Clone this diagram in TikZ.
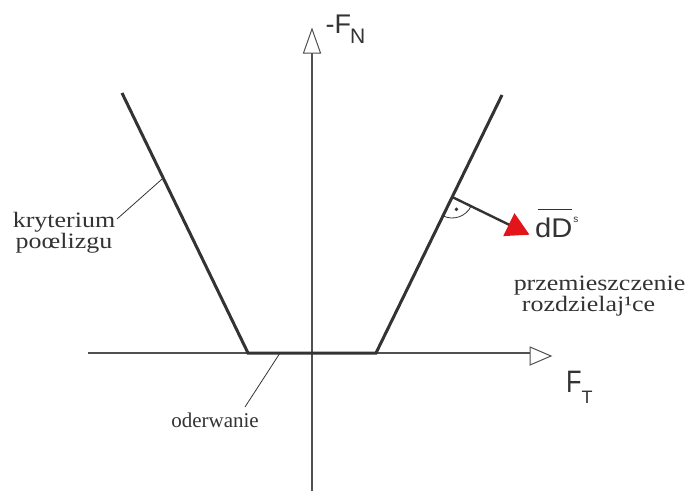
\documentclass[tikz,border=0pt]{standalone}
\usepackage{fontspec}
\setmainfont{Liberation Serif}
\newfontfamily\lsans{Liberation Sans}
\usetikzlibrary{arrows.meta,calc}
\definecolor{ink}{HTML}{333333}
\definecolor{axisgray}{HTML}{505050}
\definecolor{dred}{HTML}{E4141B}
\newcommand{\wide}[1]{\scalebox{1.18}[1]{#1}}
\begin{document}
\begin{tikzpicture}[x=1pt,y=-1pt,
  axis/.style={draw=axisgray, line width=1.1pt},
  opentip/.style={draw=axisgray, line width=1pt, fill=white, line join=miter},
  crit/.style={draw=ink, line width=3pt, line join=miter},
  leader/.style={draw=ink, line width=0.8pt},
  serif/.style={font={\fontsize{22}{21}\selectfont\lineskiplimit=-60pt\lineskip=0pt}, text=ink, inner sep=0pt, align=center},
  sanslab/.style={text=ink, inner sep=0pt, anchor=base west}]
\useasboundingbox (0,0) rectangle (688,491);
% axes
\coordinate (vb) at (312,491);
\coordinate (vt) at (312,53);
\coordinate (hl) at (88,353);
\coordinate (hr) at (530,353);
\draw[axis] (vb) -- (vt);
\draw[axis] (hl) -- (hr);
\draw[opentip] (312,29) coordinate (vtip) -- (320.5,53) -- (303.5,53) -- cycle;
\draw[opentip] (551,356) coordinate (htip) -- (530,365) -- (530,347) -- cycle;
% criterion
\draw[crit] (122,93) coordinate (lt) -- (248,353) coordinate (lb) -- (376,353) coordinate (rb) -- (502,95) coordinate (rt);
% normal direction
\coordinate (foot) at ($(rb)!0.6047!(rt)$);
\draw[draw=ink, line width=2.4pt, -{Triangle[length=23pt,width=25pt,color=dred]}] (foot) -- ++(26:86) coordinate (tip);
\draw[leader] (foot) ++(26:21) arc[start angle=26, end angle=116, radius=21];
\fill[ink] (foot) ++(71:13) circle[radius=1.9];
% leaders
\coordinate (lcrit) at ($(lb)!0.673!(lt)$);
\coordinate (lodr) at (280,353);
% labels
\node[serif] (kr) at (64,232.4) {\wide{kryterium}\\\wide{poœlizgu}};
\draw[leader] (117,219) coordinate (kend) -- (lcrit);
\node[serif, font=\fontsize{21}{18}\selectfont, anchor=base] (odr) at (215,427) {oderwanie};
\draw[leader] (245,407) coordinate (oend) -- (lodr);
\node[serif] (pz) at (599.5,296.4) {\wide{przemieszczenie}\\\wide{rozdzielaj¹ce}\hspace*{22pt}};
% force labels
\node[sanslab, font=\lsans\fontsize{27}{27}\selectfont] (fn) at (325.5,33)
  {-F\kern-1pt\raisebox{-10pt}{\fontsize{21}{21}\selectfont N}};
\node[sanslab, font=\lsans\fontsize{31}{31}\selectfont] (ft) at (566,392)
  {\scalebox{0.82}[1]{F}\raisebox{-11pt}{\fontsize{18}{18}\selectfont T}};
\node[sanslab, font=\lsans\fontsize{27}{27}\selectfont] (dd) at (535,237)
  {\scalebox{1.08}[1]{dD}\kern1pt\raisebox{15pt}{\fontsize{10}{10}\selectfont s}};
\draw[draw=ink, line width=1pt] ([xshift=2.5pt,yshift=7pt]dd.north west) -- ([xshift=-7pt,yshift=7pt]dd.north east);
\end{tikzpicture}
\end{document}
